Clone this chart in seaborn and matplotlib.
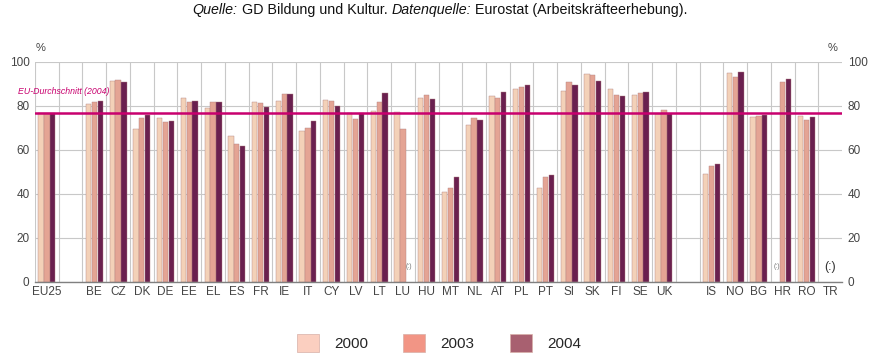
import numpy as np
import pandas as pd
import matplotlib
matplotlib.use("Agg")
import matplotlib.pyplot as plt
from matplotlib.patches import Patch
import seaborn as sns

# Laender (leere Namen = Luecken im Diagramm)
laender = ["EU25", " ", "BE", "CZ", "DK", "DE", "EE", "EL", "ES", "FR", "IE",
           "IT", "CY", "LV", "LT", "LU", "HU", "MT", "NL", "AT", "PL", "PT",
           "SI", "SK", "FI", "SE", "UK", "  ", "IS", "NO", "BG", "HR", "RO", "TR"]
nan = np.nan
w2000 = [76.6, nan, 81.1, 91.2, 69.7, 74.7, 83.8, 79.2, 66.4, 81.8, 82.4,
         68.8, 82.9, 76.8, 77.9, 77.4, 83.8, 40.9, 71.5, 84.7, 87.9, 42.9,
         87.0, 94.7, 87.9, 85.2, 76.5, nan, 49.2, 95.2, 75.2, nan, 75.6, nan]
w2003 = [76.7, nan, 81.7, 92.0, 74.5, 72.6, 81.7, 82.0, 62.7, 81.2, 85.3,
         69.8, 82.1, 74.1, 82.0, 69.7, 85.2, 42.9, 74.7, 83.8, 88.8, 47.7,
         90.8, 94.2, 85.2, 85.8, 78.0, nan, 52.7, 93.3, 75.6, 90.8, 73.8, nan]
w2004 = [76.9, nan, 82.1, 90.9, 76.1, 73.0, 82.3, 82.0, 61.8, 79.7, 85.3,
         73.0, 80.0, 76.8, 86.1, nan, 83.3, 47.9, 73.8, 86.4, 89.5, 48.8,
         89.7, 91.4, 84.5, 86.4, 76.5, nan, 53.8, 95.3, 75.9, 92.4, 74.8, nan]
jahre = ["2000", "2003", "2004"]
eu_schnitt = 76.9

farben = ["#FDD0AE", "#F29C86", "#771352"]
legende_farben = ["#FBCFC0", "#F29585", "#A86070"]
magenta = "#C8006E"

rows = []
for j, werte in zip(jahre, [w2000, w2003, w2004]):
    for land, v in zip(laender, werte):
        rows.append({"land": land, "jahr": j, "wert": v})
data = pd.DataFrame(rows)

sns.set_theme(style="white")
plt.rcParams['font.family'] = ['Liberation Sans', 'DejaVu Sans']

fig = plt.figure(figsize=(8.77, 3.64), dpi=100)
ax = fig.add_axes([35 / 877, 1 - 282 / 364, (842 - 35) / 877, 220 / 364])

sns.barplot(data=data.dropna(), x="land", y="wert", hue="jahr",
            order=laender, hue_order=jahre, palette=farben,
            width=0.74, gap=0.1, errorbar=None, legend=False,
            edgecolor="#B08080", linewidth=0.3, ax=ax)

ax.set_xlim(-0.5, len(laender) - 0.5)
ax.set_ylim(0, 100)
ax.set_xlabel("")
ax.set_ylabel("")
ax.set_yticks([0, 20, 40, 60, 80, 100])
ax.set_xticks(range(len(laender)))
ax.set_xticklabels([l.strip() for l in laender], fontsize=8.5, color="#444444")
ax.tick_params(axis='y', labelsize=8.5, labelcolor="#444444", length=0,
               pad=4, labelright=True)
ax.tick_params(axis='x', length=0, pad=3)

# Gitter
ax.set_xticks(np.arange(-0.5, len(laender) - 1), minor=True)
ax.grid(which='minor', axis='x', color="#C8C8C8", lw=0.8)
ax.grid(which='major', axis='y', color="#C8C8C8", lw=0.8)
ax.grid(which='major', axis='x', visible=False)
ax.tick_params(which='minor', length=0)
ax.set_axisbelow(True)
for s in ["top", "left", "right"]:
    ax.spines[s].set_visible(False)
ax.spines["bottom"].set_color("#808080")
ax.spines["bottom"].set_linewidth(1)

# EU-Durchschnitt
ax.axhline(eu_schnitt, color=magenta, lw=1.8, zorder=3)
ax.text(-1.22, eu_schnitt + 7.5, "EU-Durchschnitt (2004)", color=magenta,
        fontsize=6.3, style="italic", clip_on=False,
        va="bottom", ha="left")

# fehlende Werte
versatz = {"2000": -0.245, "2003": 0.0, "2004": 0.245}
for j, werte in zip(jahre, [w2000, w2003, w2004]):
    for i, (land, v) in enumerate(zip(laender, werte)):
        if land.strip() and land != "TR" and np.isnan(v):
            ax.text(i + versatz[j], 7, "(:)", fontsize=5, color="#777777",
                    ha="center", va="center")
ax.text(laender.index("TR"), 7, "(:)", fontsize=9, color="#333333",
        ha="center", va="center")

fig.text(41 / 877, 1 - 48 / 364, "%", fontsize=8, color="#444444",
         ha="center", va="center")
fig.text(833 / 877, 1 - 48 / 364, "%", fontsize=8, color="#444444",
         ha="center", va="center")

# Titel mit kursiven Teilen
teile = [("Quelle:", "italic"), (" GD Bildung und Kultur. ", "normal"),
         ("Datenquelle:", "italic"), (" Eurostat (Arbeitskräfteerhebung).", "normal")]
renderer = fig.canvas.get_renderer()
texte = []
for t, st in teile:
    texte.append(fig.text(0, 1 - 10 / 364, t, style=st, fontsize=10.3,
                          color="#111111", va="center", ha="left"))
breiten = [tx.get_window_extent(renderer).width for tx in texte]
x = 440 - sum(breiten) / 2
for tx, b in zip(texte, breiten):
    tx.set_x(x / 877)
    x += b

# Legende
handles = [Patch(facecolor=c, edgecolor="#D8B0A8", lw=0.5) for c in legende_farben]
fig.legend(handles, jahre, loc="center", bbox_to_anchor=(439 / 877, 1 - 343 / 364),
           ncol=3, frameon=False, fontsize=11, handlelength=1.45,
           handleheight=1.45, handletextpad=1.0, columnspacing=2.3)

fig.savefig("out.png", dpi=100)
